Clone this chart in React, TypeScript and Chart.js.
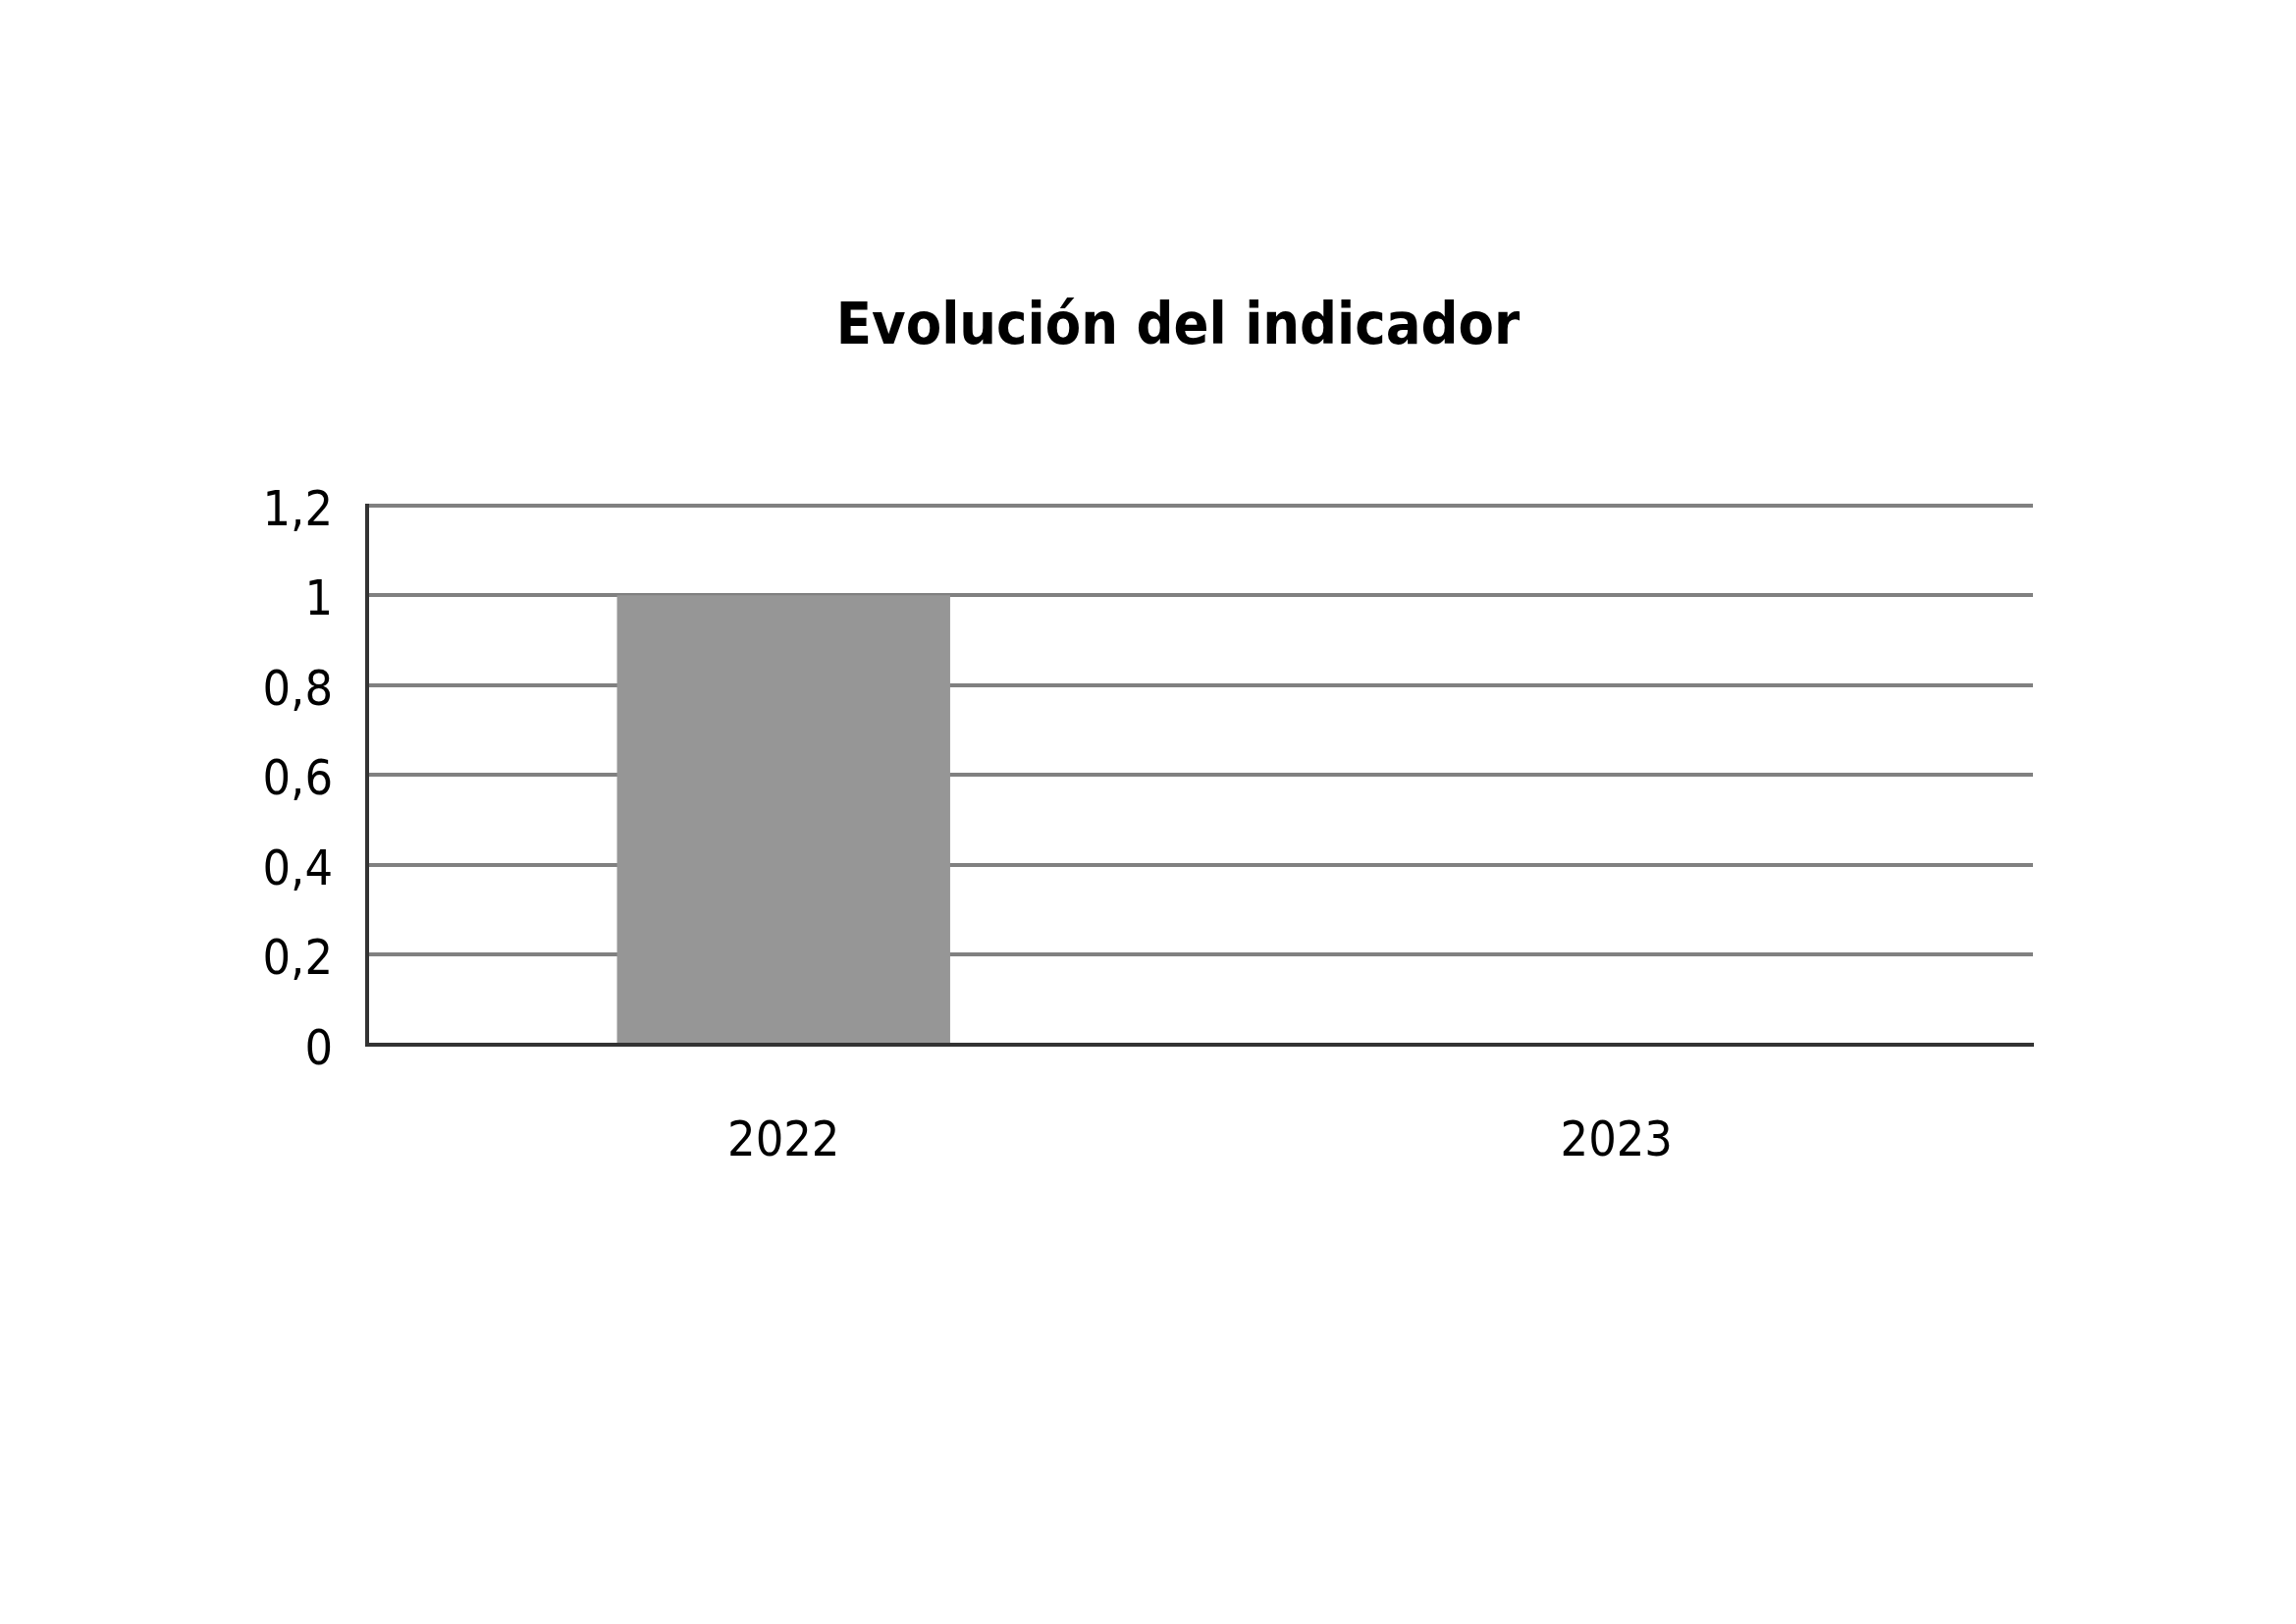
import React, { useEffect, useRef } from "react";
import { Chart, registerables } from "chart.js";

Chart.register(...registerables);

const categories = ["2022", "2023"];
const values = [1, 0];
const yTickLabels = ["0", "0,2", "0,4", "0,6", "0,8", "1", "1,2"];
const chartTitle = "Evolución del indicador";

const FONT = "'DejaVu Sans Condensed', 'DejaVu Sans', sans-serif";
const TITLE_SIZE = 59;
const TITLE_PAD_TOP = 299;
const TITLE_CENTER_X = 1200;

const offsetTitlePlugin = {
  id: "offsetTitle",
  afterDraw(chart: any) {
    const tb = chart.titleBlock;
    if (!tb) return;
    const ctx = chart.ctx;
    ctx.save();
    ctx.font = `bold ${TITLE_SIZE}px ${FONT}`;
    ctx.fillStyle = "#000000";
    ctx.textAlign = "center";
    ctx.textBaseline = "middle";
    ctx.fillText(chartTitle, TITLE_CENTER_X, tb.top + TITLE_PAD_TOP + (TITLE_SIZE * 1.2) / 2);
    ctx.restore();
  },
};

export default function App() {
  const ref = useRef<HTMLCanvasElement | null>(null);

  useEffect(() => {
    if (!ref.current) return;
    const chart = new Chart(ref.current, {
      type: "bar",
      data: {
        labels: categories,
        datasets: [
          {
            data: values,
            backgroundColor: "#969696",
            borderWidth: 0,
            barPercentage: 0.4,
            categoryPercentage: 1,
          },
        ],
      },
      plugins: [offsetTitlePlugin],
      options: {
        responsive: false,
        animation: false,
        devicePixelRatio: 1,
        layout: { padding: { left: 0, right: 268, top: 0, bottom: 0 } },
        plugins: {
          legend: { display: false },
          tooltip: { enabled: false },
          title: {
            display: true,
            text: chartTitle,
            color: "rgba(0,0,0,0)",
            font: { family: FONT, size: TITLE_SIZE, weight: "bold", lineHeight: 1.2 },
            padding: { top: TITLE_PAD_TOP, bottom: 145 },
          },
        },
        scales: {
          x: {
            grid: { display: false, drawTicks: false },
            border: { display: true, color: "#333333", width: 4 },
            ticks: {
              color: "#000000",
              font: { family: FONT, size: 50 },
              padding: 70,
              maxRotation: 0,
            },
            afterFit: (s: any) => {
              s.height = 590;
            },
          },
          y: {
            min: 0,
            max: 1.2,
            ticks: {
              stepSize: 0.2,
              color: "#000000",
              font: { family: FONT, size: 50 },
              padding: 35,
              labelOffset: 7,
              callback: (_v: any, i: number) => yTickLabels[i],
            },
            grid: {
              drawTicks: false,
              lineWidth: 4,
              color: (ctx: any) => (ctx.tick && ctx.tick.value === 0 ? "#333333" : "#808080"),
            },
            border: { display: true, color: "#333333", width: 4 },
            afterFit: (s: any) => {
              s.width = 374;
            },
          },
        },
      },
    });
    return () => chart.destroy();
  }, []);

  return (
    <div style={{ position: "absolute", left: 0, top: 0, width: 2339, height: 1654, background: "#ffffff" }}>
      <canvas ref={ref} width={2339} height={1654} style={{ display: "block", width: 2339, height: 1654 }} />
    </div>
  );
}
